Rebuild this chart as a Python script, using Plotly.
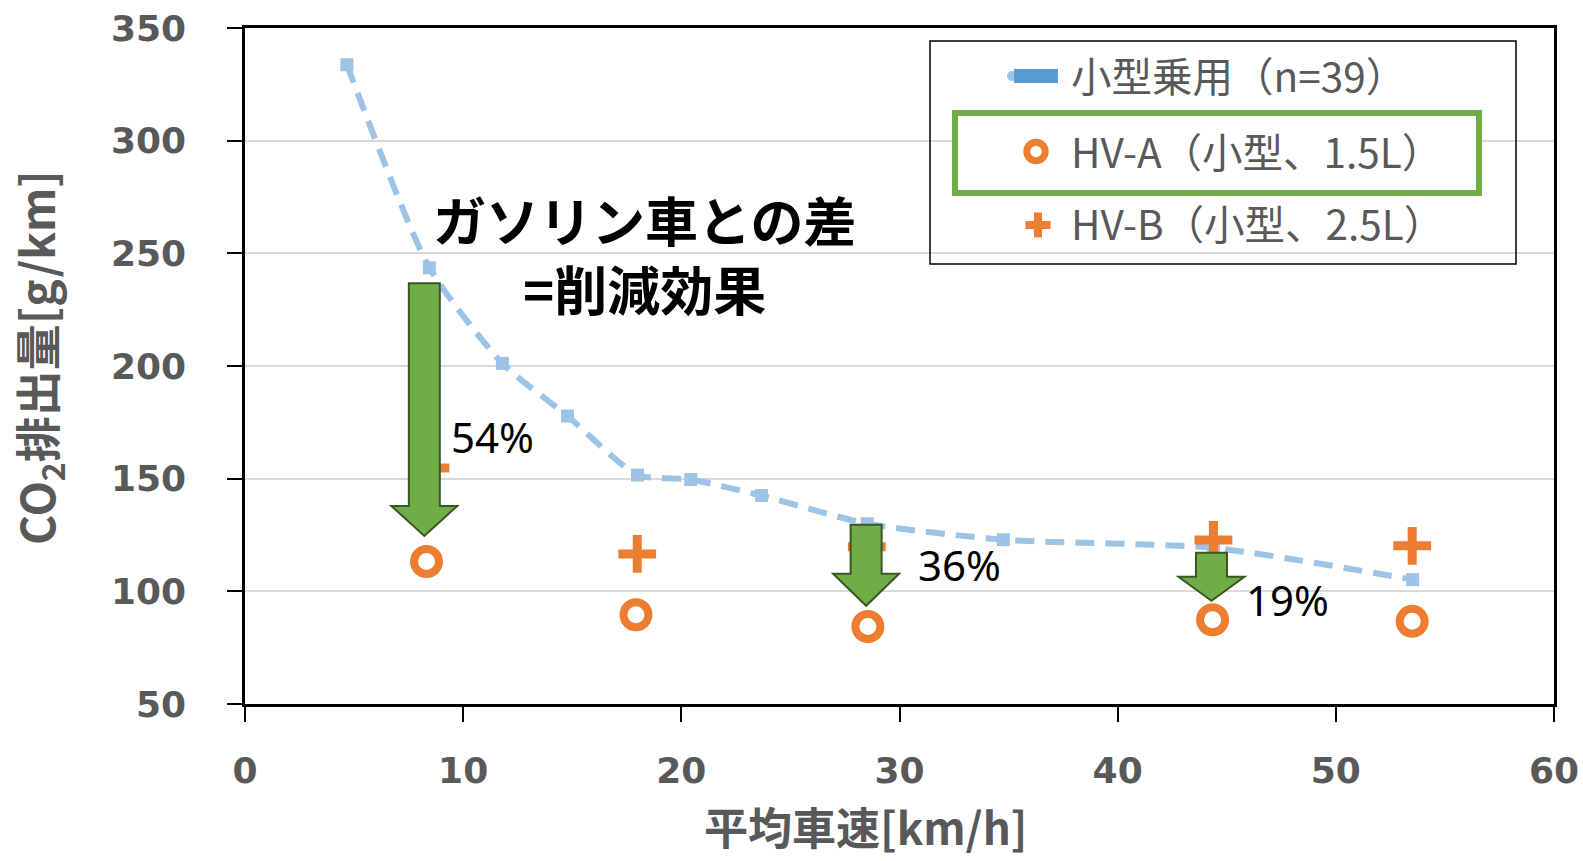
import plotly.graph_objects as go

# --- data -------------------------------------------------------------
# small gasoline passenger cars (n=39): CO2 vs average speed
gas_speed = [4.67, 8.45, 11.8, 14.78, 17.99, 20.43, 23.67, 28.52, 34.76, 44.4, 53.52]
gas_co2 = [333.7, 243.6, 201.1, 177.8, 151.6, 149.6, 142.5, 130.0, 122.9, 119.3, 105.2]

# HV-A (small, 1.5L)
hva_speed = [8.32, 17.92, 28.55, 44.35, 53.5]
hva_co2 = [113.2, 89.6, 84.4, 87.4, 86.7]

# HV-B (small, 2.5L)
hvb_speed = [8.5, 17.98, 28.5, 44.39, 53.5]
hvb_co2 = [154.7, 116.6, 119.8, 122.8, 120.2]

# reduction arrows: x position, top and tip (g/km), label
arrow_speed = [8.22, 28.47, 44.3]
arrow_top = [236.7, 129.5, 117.1]
arrow_tip = [124.6, 93.6, 95.8]
arrow_label = ["54%", "36%", "19%"]
label_pos_x = [9.34, 30.77, 45.81]
label_pos_y = [168.5, 111.8, 96.2]

x_ticks = [0, 10, 20, 30, 40, 50, 60]
y_ticks = [50, 100, 150, 200, 250, 300, 350]

legend_names = ["小型乗用（n=39）", "HV-A（小型、1.5L）", "HV-B（小型、2.5L）"]

# --- styling ------------------------------------------------------------
W, H = 1583, 861
ML, MR, MT, MB = 245, 29, 28, 157
PW, PH = W - ML - MR, H - MT - MB
XR, YR = (0, 60), (50, 350)

BLUE = "#9DC3E6"
BLUE_DARK = "#5B9BD5"
ORANGE = "#ED7D31"
GREEN = "#70AD47"
GREEN_EDGE = "#385723"
GREY = "#595959"
CJK = "Noto Sans CJK JP"


def pxx(p):
    return (p - ML) / PW


def pxy(p):
    return 1 - (p - MT) / PH


dx_per_px = (XR[1] - XR[0]) / PW
dy_per_px = (YR[1] - YR[0]) / PH

fig = go.Figure()

fig.add_trace(go.Scatter(
    x=gas_speed, y=gas_co2, mode="lines+markers", name=legend_names[0],
    line=dict(color=BLUE, width=6, dash="19px,11px", shape="spline", smoothing=0.6),
    marker=dict(symbol="square", size=13, color=BLUE),
    showlegend=False,
))
fig.add_trace(go.Scatter(
    x=hvb_speed, y=hvb_co2, mode="markers", name=legend_names[2],
    marker=dict(symbol="cross-thin", size=27, line=dict(color=ORANGE, width=9)),
    showlegend=False,
))
fig.add_trace(go.Scatter(
    x=hva_speed, y=hva_co2, mode="markers", name=legend_names[1],
    marker=dict(symbol="circle-open", size=25, color=ORANGE, line=dict(color=ORANGE, width=8)),
    showlegend=False,
))

shapes = []
annotations = []

# block arrows showing the gap to the gasoline cars
head_len_px = [30, 32, 24]
shaft_hw = 15.5 * dx_per_px
head_hw = 33 * dx_per_px
for x, top, tip, hl in zip(arrow_speed, arrow_top, arrow_tip, head_len_px):
    base = tip + hl * dy_per_px
    path = (f"M{x - shaft_hw},{top} L{x + shaft_hw},{top} L{x + shaft_hw},{base} "
            f"L{x + head_hw},{base} L{x},{tip} L{x - head_hw},{base} "
            f"L{x - shaft_hw},{base} Z")
    shapes.append(dict(type="path", path=path, xref="x", yref="y",
                       fillcolor=GREEN, line=dict(color=GREEN_EDGE, width=2),
                       layer="above"))

for lbl, lx, ly in zip(arrow_label, label_pos_x, label_pos_y):
    annotations.append(dict(x=lx, y=ly, xref="x", yref="y", text=lbl,
                            showarrow=False, xanchor="left", yanchor="middle",
                            font=dict(family="Noto Sans", size=42, color="black")))

annotations.append(dict(x=18.31, y=250.0, xref="x", yref="y",
                        text="ガソリン車との差<br>=削減効果",
                        showarrow=False, xanchor="center", yanchor="middle", align="center",
                        font=dict(family=CJK, size=53, color="black", weight="bold")))

# axis titles
annotations.append(dict(x=pxx(865), y=pxy(860), xref="paper", yref="paper",
                        text="平均車速[km/h]", showarrow=False,
                        xanchor="center", yanchor="bottom",
                        font=dict(family=CJK, size=44, color=GREY, weight="bold")))
annotations.append(dict(x=pxx(38), y=pxy(357), xref="paper", yref="paper",
                        text="CO<sub>2</sub>排出量[g/km]", showarrow=False, textangle=-90,
                        xanchor="center", yanchor="middle",
                        font=dict(family=CJK, size=46, color=GREY, weight="bold")))

# legend box
shapes.append(dict(type="rect", xref="paper", yref="paper",
                   x0=pxx(930), x1=pxx(1516), y0=pxy(264), y1=pxy(41),
                   line=dict(color="black", width=1.5), fillcolor="rgba(0,0,0,0)",
                   layer="above"))
# highlight frame around HV-A
shapes.append(dict(type="rect", xref="paper", yref="paper",
                   x0=pxx(955), x1=pxx(1479), y0=pxy(193), y1=pxy(113),
                   line=dict(color=GREEN, width=6), fillcolor="white", layer="above"))
# legend symbols
shapes.append(dict(type="circle", xref="paper", yref="paper",
                   xsizemode="pixel", ysizemode="pixel",
                   xanchor=pxx(1012), yanchor=pxy(76),
                   x0=-5, x1=5, y0=-5, y1=5,
                   fillcolor=BLUE, line=dict(width=0), layer="above"))
shapes.append(dict(type="rect", xref="paper", yref="paper",
                   x0=pxx(1014), x1=pxx(1058), y0=pxy(83), y1=pxy(69),
                   fillcolor=BLUE_DARK, line=dict(width=0), layer="above"))
shapes.append(dict(type="circle", xref="paper", yref="paper",
                   xsizemode="pixel", ysizemode="pixel",
                   xanchor=pxx(1036), yanchor=pxy(151.5),
                   x0=-9.2, x1=9.2, y0=-9.2, y1=9.2,
                   fillcolor="white", line=dict(color=ORANGE, width=7), layer="above"))
shapes.append(dict(type="path", xref="paper", yref="paper",
                   xsizemode="pixel", ysizemode="pixel",
                   xanchor=pxx(1038), yanchor=pxy(225),
                   path="M-12.5,-4 H-4 V-12.5 H4 V-4 H12.5 V4 H4 V12.5 H-4 V4 H-12.5 Z",
                   fillcolor=ORANGE, line=dict(width=0), layer="above"))

for name, yy in zip(legend_names, [74, 150, 223]):
    annotations.append(dict(x=pxx(1069), y=pxy(yy), xref="paper", yref="paper",
                            text=name, showarrow=False, xanchor="left", yanchor="middle",
                            font=dict(family=CJK, size=40.5, color=GREY)))

axis_common = dict(
    showline=True, linecolor="black", linewidth=2.5, mirror=True,
    ticks="outside", ticklen=15, tickwidth=2, tickcolor="black",
    tickfont=dict(family="DejaVu Sans", size=36, color=GREY, weight="bold"),
    zeroline=False, automargin=False,
)

fig.update_layout(
    width=W, height=H, autosize=False,
    margin=dict(l=ML, r=MR, t=MT, b=MB, pad=0),
    paper_bgcolor="white", plot_bgcolor="white",
    showlegend=False,
    shapes=shapes, annotations=annotations,
    xaxis=dict(range=list(XR), tickvals=x_ticks, showgrid=False,
               ticklabelstandoff=18, **axis_common),
    yaxis=dict(range=list(YR), tickvals=y_ticks, showgrid=True,
               gridcolor="#D9D9D9", gridwidth=1.5,
               ticklabelstandoff=34, **axis_common),
)

fig.write_html("out.html")
